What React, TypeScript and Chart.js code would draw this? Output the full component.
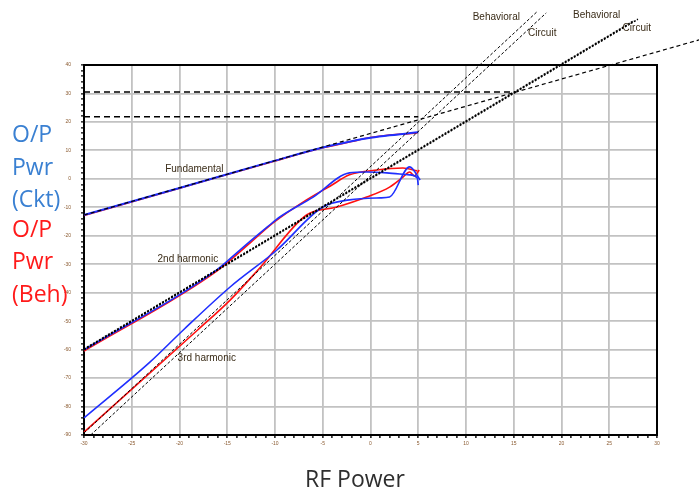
import React, { useEffect, useRef } from "react";
import { Chart, registerables } from "chart.js";

Chart.register(...registerables);

// Axis ranges / tick labels
const xTickValues = [-30, -25, -20, -15, -10, -5, 0, 5, 10, 15, 20, 25, 30];
const yTickValues = [40, 30, 20, 10, 0, -10, -20, -30, -40, -50, -60, -70, -80, -90];

// Fundamental (measured)
const fundX = [-30, -20, -10, -5, -2, 0, 2, 4, 5];
const fundCkt = [-12.7, -3.2, 6.4, 11.0, 13.2, 14.4, 15.3, 16.0, 16.4];
const fundBehX = [-30, -20, -10, -5, -2, 0, 2, 4, 4.9];
const fundBeh = [-12.9, -3.3, 6.3, 10.9, 13.1, 14.5, 15.4, 15.9, 16.1];

// 2nd harmonic (measured)
const h2CktX = [-30, -16.1, -13.5, -10.8, -9.5, -6.0, -2.2, -0.4, 1.7, 4.1, 4.9, 5.0];
const h2Ckt = [-60.1, -32.0, -24.5, -16.9, -13.4, -6.4, 2.1, 2.4, 2.1, 1.4, 0.3, -2.2];
const h2BehX = [-30, -16.1, -12.6, -10.2, -6.7, -4.2, -2.2, 0.7, 3.4, 4.9];
const h2Beh = [-60.5, -32.4, -22.5, -15.5, -7.4, -2.5, 1.4, 3.1, 3.8, 2.8];

// 3rd harmonic (measured)
const h3CktX = [-30, -23.1, -19.6, -14.7, -9.8, -5.0, -2.2, 1.0, 2.0, 4.1, 5.2];
const h3Ckt = [-84.0, -64.4, -53.1, -38.0, -25.0, -9.9, -7.4, -6.7, -6.4, 4.2, -0.4];
const h3BehX = [-30, -18.1, -14.7, -11.6, -6.7, -3.5, -0.4, 2.0, 3.4, 4.1, 4.6, 5.1];
const h3Beh = [-89.0, -53.1, -42.6, -31.3, -12.7, -9.9, -6.4, -2.9, 0.6, 2.4, 1.0, 3.1];

// Extrapolated (ideal) lines
const fundExtX = [-30, 35];
const fundExtY = [-12.7, 49.4];
const h2ExtBehX = [-30, 28];
const h2ExtBehY = [-60.1, 56.1];
const h2ExtCktX = [-30, 27.6];
const h2ExtCktY = [-59.8, 55.6];
const h3ExtBehX = [-30, 17.4];
const h3ExtBehY = [-89.3, 58.6];
const h3ExtCktX = [-29.3, 18.4];
const h3ExtCktY = [-90, 58.3];

// Intercept levels (dashed horizontals)
const ip2LineX = [-30, 15.2];
const ip2LineY = [30.5, 30.5];
const ip3LineX = [-30, 5.0];
const ip3LineY = [21.8, 21.8];

// Annotation labels
const labelTexts = ["Fundamental", "2nd harmonic", "3rd harmonic", "Behavioral", "Circuit", "Behavioral", "Circuit"];
const labelX = [-21.5, -22.3, -20.2, 10.7, 16.5, 21.2, 26.4];
const labelY = [3.5, -28.2, -63.0, 56.9, 51.0, 57.6, 53.0];

const BLUE = "#1f2fff";
const RED = "#ff1010";

const pts = (xs: number[], ys: number[]) => xs.map((x, i) => ({ x, y: ys[i] }));

export default function App() {
  const ref = useRef<HTMLCanvasElement | null>(null);

  useEffect(() => {
    document.body.style.margin = "0";
    const canvas = ref.current;
    if (!canvas) return;

    const deco = {
      id: "deco",
      beforeDatasetsDraw(chart: any) {
        const { ctx, chartArea: a } = chart;
        ctx.save();
        ctx.strokeStyle = "#000";
        ctx.lineWidth = 2;
        ctx.strokeRect(a.left, a.top, a.right - a.left, a.bottom - a.top);
        ctx.restore();
      },
      afterDraw(chart: any) {
        const { ctx } = chart;
        const xs = chart.scales.x;
        const ys = chart.scales.y;
        ctx.save();
        ctx.font = "10px 'Liberation Sans', Arial, sans-serif";
        ctx.fillStyle = "#3a2c18";
        ctx.textBaseline = "middle";
        ctx.textAlign = "left";
        labelTexts.forEach((t, i) => {
          ctx.fillText(t, xs.getPixelForValue(labelX[i]), ys.getPixelForValue(labelY[i]));
        });
        ctx.textBaseline = "alphabetic";
        ctx.font = "23px 'Open Sans', sans-serif";
        const lines = ["O/P", "Pwr", "(Ckt)", "O/P", "Pwr", "(Beh)"];
        const bases = [142, 175, 207, 237, 269, 302];
        lines.forEach((t, i) => {
          ctx.fillStyle = i < 3 ? "#3a80d2" : "#ff1a1a";
          ctx.fillText(t, 12, bases[i]);
        });
        ctx.font = "23px 'Open Sans', sans-serif";
        ctx.fillStyle = "#2e2e2e";
        ctx.textAlign = "center";
        ctx.fillText("RF Power", 355, 487);
        ctx.restore();
      },
    };

    const line = (data: any, color: string, width: number, dash: number[] = [], smooth = false) => ({
      data,
      borderColor: color,
      borderWidth: width,
      borderDash: dash,
      pointRadius: 0,
      tension: smooth ? 0.4 : 0,
      cubicInterpolationMode: smooth ? ("monotone" as const) : ("default" as const),
      fill: false,
      clip: false as any,
    });

    const isMajor = (v: number, step: number) => Math.abs(v % step) < 1e-6;

    const chart = new Chart(canvas, {
      type: "line",
      data: {
        datasets: [
          line(pts(fundExtX, fundExtY), "#000", 1.2, [4, 3]),
          line(pts(h2ExtBehX, h2ExtBehY), "#000", 1.5, [2, 1.5]),
          line(pts(h2ExtCktX, h2ExtCktY), "#000", 1.5, [2, 1.5]),
          line(pts(h3ExtBehX, h3ExtBehY), "#000", 1, [3, 2]),
          line(pts(h3ExtCktX, h3ExtCktY), "#000", 1, [3, 2]),
          line(pts(ip2LineX, ip2LineY), "#000", 1.6, [6, 4]),
          line(pts(ip3LineX, ip3LineY), "#000", 1.6, [6, 4]),
          line(pts(fundX, fundCkt), BLUE, 2, [], true),
          line(pts(h2CktX, h2Ckt), BLUE, 1.6, [], true),
          line(pts(h3CktX, h3Ckt), BLUE, 1.6, [], true),
          line(pts(fundBehX, fundBeh), RED, 1.6, [], true),
          line(pts(h2BehX, h2Beh), RED, 1.6, [], true),
          line(pts(h3BehX, h3Beh), RED, 1.6, [], true),
        ],
      },
      options: {
        animation: false,
        responsive: false,
        maintainAspectRatio: false,
        events: [],
        layout: { padding: { left: 0, top: 65, right: 42, bottom: 0 } },
        plugins: { legend: { display: false }, tooltip: { enabled: false } },
        scales: {
          x: {
            type: "linear",
            min: xTickValues[0],
            max: xTickValues[xTickValues.length - 1],
            afterFit: (s: any) => {
              s.height = 58;
            },
            border: { display: true, color: "#000", width: 2 },
            grid: {
              color: (c: any) => (isMajor(c.tick.value, 5) ? "#c2c2c2" : "rgba(0,0,0,0)"),
              lineWidth: 1.8,
              tickColor: "#000",
              tickLength: 3,
              tickWidth: 1.4,
            },
            ticks: {
              stepSize: 1,
              autoSkip: false,
              maxRotation: 0,
              padding: 3,
              color: "#8a5a30",
              font: { size: 5, family: "'Liberation Sans', sans-serif" },
              callback: (v: any) => (xTickValues.includes(Number(v)) ? String(v) : ""),
            },
          },
          y: {
            type: "linear",
            min: yTickValues[yTickValues.length - 1],
            max: yTickValues[0],
            afterFit: (s: any) => {
              s.width = 84;
            },
            border: { display: true, color: "#000", width: 2 },
            grid: {
              color: (c: any) => (isMajor(c.tick.value, 10) ? "#c2c2c2" : "rgba(0,0,0,0)"),
              lineWidth: 1.8,
              tickColor: "#000",
              tickLength: 3,
              tickWidth: 1.4,
            },
            ticks: {
              stepSize: 2,
              autoSkip: false,
              padding: 10,
              color: "#8a5a30",
              font: { size: 5, family: "'Liberation Sans', sans-serif" },
              callback: (v: any) => (yTickValues.includes(Number(v)) ? String(v) : ""),
            },
          },
        },
      },
      plugins: [deco],
    });

    return () => chart.destroy();
  }, []);

  return (
    <div style={{ position: "fixed", left: 0, top: 0, width: 699, height: 493, background: "#fff" }}>
      <canvas ref={ref} width={699} height={493} style={{ width: 699, height: 493 }} />
    </div>
  );
}
